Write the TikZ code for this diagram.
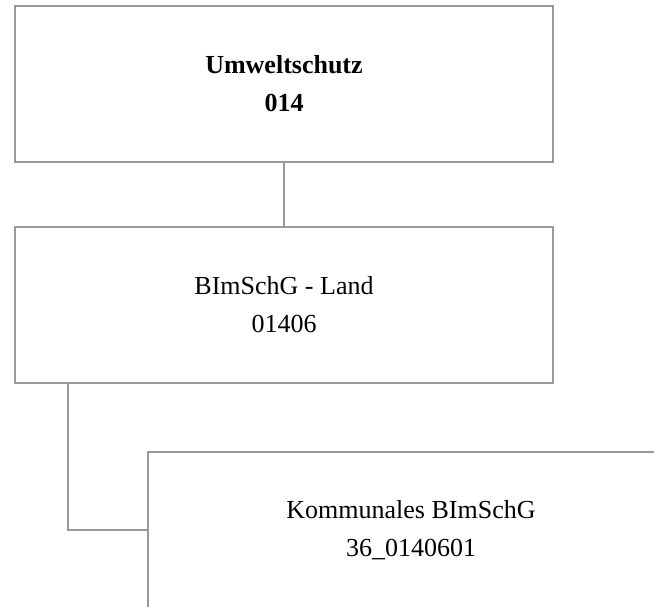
\documentclass[tikz,border=0pt]{standalone}
\usepackage{fontspec}
\setmainfont{Liberation Serif}
\usetikzlibrary{positioning}
\definecolor{linegray}{rgb}{0.6, 0.6, 0.6}
\tikzstyle{unit} = [rectangle, minimum width=538pt, minimum height=156pt, text centered, align=center, draw=linegray, line width=2pt, fill=white, font=\fontsize{26}{38}\selectfont]
\tikzstyle{link} = [draw=linegray, line width=2pt]

\begin{document}
\begin{tikzpicture}[x=1pt, y=1pt]

\useasboundingbox (0,0) rectangle (654,-606);
\clip (0,0) rectangle (654,-606);

\node (umwelt) [unit, font=\fontsize{26}{38}\selectfont\bfseries] at (284,-84) {Umweltschutz\\014};

\node (land) [unit, below of=umwelt, node distance=221pt] {BImSchG - Land\\01406};

\node (kommunal) [unit, minimum width=526pt, below of=land, node distance=225pt, xshift=127pt] {Kommunales BImSchG\\36\_0140601};

\draw[link] (umwelt) -- (land);
\draw[link] ([xshift=54pt]land.south west) |- (kommunal.west);

\end{tikzpicture}
\end{document}
